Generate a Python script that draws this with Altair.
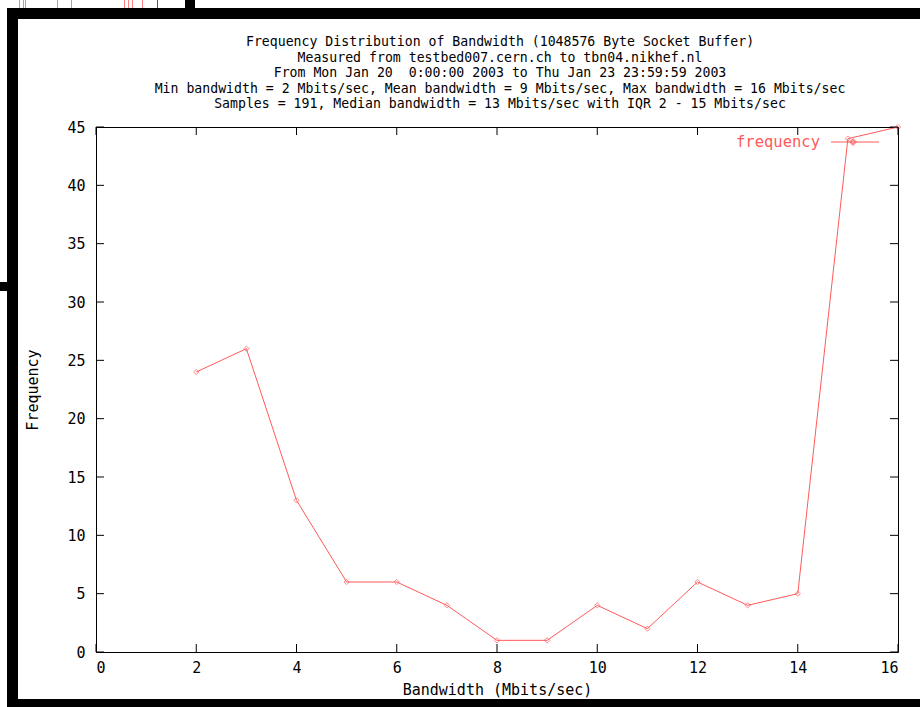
import altair as alt
import pandas as pd

# ---- data ----
bandwidth = [2, 3, 4, 5, 6, 7, 8, 9, 10, 11, 12, 13, 14, 15, 16]
frequency = [24, 26, 13, 6, 6, 4, 1, 1, 4, 2, 6, 4, 5, 44, 45]
x_ticks = [0, 2, 4, 6, 8, 10, 12, 14, 16]
y_ticks = [0, 5, 10, 15, 20, 25, 30, 35, 40, 45]
title_lines = [
    "Frequency Distribution of Bandwidth (1048576 Byte Socket Buffer)",
    "Measured from testbed007.cern.ch to tbn04.nikhef.nl",
    "From Mon Jan 20\u00a0\u00a00:00:00 2003 to Thu Jan 23 23:59:59 2003",
    "Min bandwidth = 2 Mbits/sec, Mean bandwidth = 9 Mbits/sec, Max bandwidth = 16 Mbits/sec",
    "Samples = 191, Median bandwidth = 13 Mbits/sec with IQR 2 - 15 Mbits/sec",
]

FONT = "DejaVu Sans Mono"
RED = "#ff5a5a"
W, H = 802, 525
PL, PT = 96, 127

df = pd.DataFrame({"bw": bandwidth, "freq": frequency})
xt = pd.DataFrame({"t": x_ticks})
yt = pd.DataFrame({"t": y_ticks})
one = pd.DataFrame({"label": ["frequency"]})

xscale = alt.Scale(domain=[0, 16], nice=False, zero=False)
yscale = alt.Scale(domain=[0, 45], nice=False, zero=False)

xaxis = alt.Axis(values=x_ticks, title="Bandwidth (Mbits/sec)", ticks=False, domain=False,
                 grid=False, labelPadding=8, titlePadding=7, format="d")
yaxis = alt.Axis(values=y_ticks, title="Frequency", ticks=False, domain=False,
                 grid=False, labelPadding=11, titlePadding=26, format="d")

line = alt.Chart(df).mark_line(color=RED, strokeWidth=1).encode(
    x=alt.X("bw:Q", scale=xscale, axis=xaxis),
    y=alt.Y("freq:Q", scale=yscale, axis=yaxis),
)
pts = alt.Chart(df).mark_point(shape="diamond", filled=False, color=RED, size=28, strokeWidth=1).encode(
    x=alt.X("bw:Q", scale=xscale),
    y=alt.Y("freq:Q", scale=yscale),
)

# inward ticks on all four sides
tick_b = alt.Chart(xt).mark_rule(color="black").encode(
    x=alt.X("t:Q", scale=xscale), y=alt.value(H), y2=alt.value(H - 8))
tick_t = alt.Chart(xt).mark_rule(color="black").encode(
    x=alt.X("t:Q", scale=xscale), y=alt.value(0), y2=alt.value(8))
tick_l = alt.Chart(yt).mark_rule(color="black").encode(
    y=alt.Y("t:Q", scale=yscale), x=alt.value(0), x2=alt.value(8))
tick_r = alt.Chart(yt).mark_rule(color="black").encode(
    y=alt.Y("t:Q", scale=yscale), x=alt.value(W), x2=alt.value(W - 8))

# multi-line title as text
title = alt.Chart(one).mark_text(
    align="center", baseline="alphabetic", font=FONT, fontSize=13.2, color="black",
    lineHeight=15.5,
).encode(text=alt.value(title_lines), x=alt.value(500 - PL), y=alt.value(46 - PT))

# key (gnuplot style, top right)
key_text = alt.Chart(one).mark_text(align="right", baseline="middle", font=FONT,
                                    fontSize=15.5, color=RED).encode(
    text="label:N", x=alt.value(820 - PL), y=alt.value(142 - PT))
key_line = alt.Chart(one).mark_rule(color=RED).encode(
    x=alt.value(831 - PL), x2=alt.value(879 - PL), y=alt.value(142 - PT))
key_pt = alt.Chart(one).mark_point(shape="diamond", filled=False, color=RED, size=28).encode(
    x=alt.value(853 - PL), y=alt.value(142 - PT))

# window frame decoration (screenshot border and a window behind)
def box(x0, x1, y0, y1, color="black"):
    return alt.Chart(one).mark_rect(color=color).encode(
        x=alt.value(x0 - PL), x2=alt.value(x1 - PL), y=alt.value(y0 - PT), y2=alt.value(y1 - PT))

def vline(x0, y0, y1, color):
    return alt.Chart(one).mark_rule(color=color, strokeWidth=1).encode(
        x=alt.value(x0 - PL), y=alt.value(y0 - PT), y2=alt.value(y1 - PT))

frame = [
    box(7, 920, 8, 19),
    box(7, 18, 8, 707),
    box(7, 920, 699, 707),
    box(185, 195, 0, 8),
    box(0, 7, 282, 291),
    vline(157.5, 0, 8, "#555555"),
]
for px in [19.5, 23.5, 25.5, 57.5, 71.5, 124.5, 128.5, 132.5, 142.5]:
    frame.append(vline(px, 0, 8, "#ff8080"))

chart = alt.layer(
    *frame, line, pts, tick_b, tick_t, tick_l, tick_r, title, key_text, key_line, key_pt
).properties(
    width=W, height=H,
    autosize=alt.AutoSizeParams(type="none"),
    padding={"left": PL, "top": PT, "right": 920 - PL - W, "bottom": 707 - PT - H},
    background="white",
).configure_view(
    stroke="black", strokeWidth=1
).configure_axis(
    labelFont=FONT, labelFontSize=15, labelColor="black",
    titleFont=FONT, titleFontSize=15, titleFontWeight="normal", titleColor="black",
)

chart.save("out.html", embed_options={"renderer": "svg", "actions": False})
